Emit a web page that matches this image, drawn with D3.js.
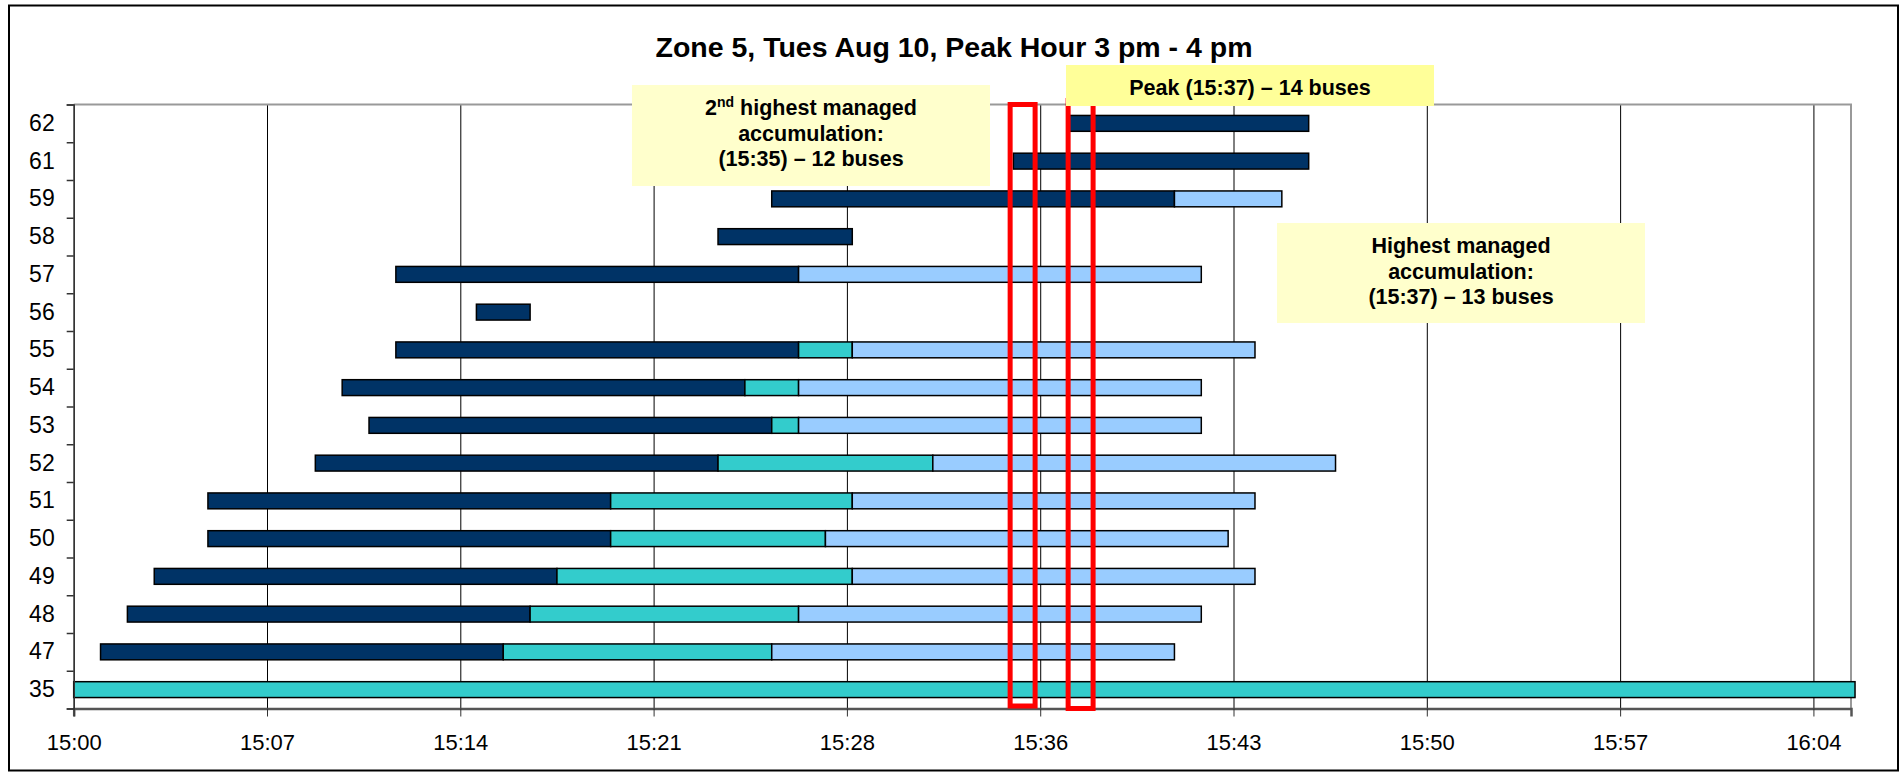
<!DOCTYPE html>
<html>
<head>
<meta charset="utf-8">
<script src="https://cdn.jsdelivr.net/npm/d3@7"></script>
<style>
    body { margin: 0; background: #fff; }
    svg { display: block; font-family: "Liberation Sans", Arial, sans-serif; }
</style>
</head>
<body>
<div id="chart"></div>
<script>
// bays, bottom to top as in the sheet
var categories = ["35", "47", "48", "49", "50", "51", "52", "53", "54", "55", "56", "57", "58", "59", "61", "62"];
// minutes after 15:00
var startMin = [0, 1, 2, 3, 5, 5, 9, 11, 10, 12, 15, 12, 24, 26, 35, 37];
var navyMin  = [0, 15, 15, 15, 15, 15, 15, 15, 15, 15, 2, 15, 5, 15, 11, 9];
var tealMin  = [66.35, 10, 10, 11, 8, 9, 8, 1, 2, 2, 0, 0, 0, 0, 0, 0];
var lightMin = [0, 15, 15, 15, 15, 15, 15, 15, 15, 15, 0, 15, 0, 4, 0, 0];

var tickMinutes = [0, 7.2, 14.4, 21.6, 28.8, 36, 43.2, 50.4, 57.6, 64.8];
var tickLabels = ["15:00", "15:07", "15:14", "15:21", "15:28", "15:36", "15:43", "15:50", "15:57", "16:04"];

// red marker windows (15:35 and 15:37)
var markStart = [34.88, 37.04];
var markEnd = [35.81, 37.97];

var title = "Zone 5, Tues Aug 10, Peak Hour 3 pm - 4 pm";
var peakText = "Peak (15:37) \u2013 14 buses";
var secondText = ["highest managed", "accumulation:", "(15:35) \u2013 12 buses"];
var highestText = ["Highest managed", "accumulation:", "(15:37) \u2013 13 buses"];

var W = 1902, H = 773;
var plot = {left: 73.7, right: 1851, top: 104.5, bottom: 708.5};
var colors = {navy: "#003366", teal: "#33CCCC", light: "#99CCFF"};

var svg = d3.select("#chart").append("svg").attr("width", W).attr("height", H);

// outer chart border
svg.append("rect").attr("x", 9).attr("y", 5.5).attr("width", 1889).attr("height", 765)
    .attr("fill", "#fff").attr("stroke", "#000").attr("stroke-width", 2);

svg.append("text").attr("x", 954).attr("y", 57).attr("text-anchor", "middle")
    .attr("font-size", 28.5).attr("font-weight", "bold").text(title);

var x = d3.scaleLinear().domain([0, 66.2]).range([plot.left, plot.right]);
var y = d3.scaleBand().domain(categories.slice().reverse()).range([plot.top, plot.bottom]);
var yEdge = d3.scaleLinear().domain([0, categories.length]).range([plot.bottom, plot.top]);

// vertical gridlines
var grid = svg.append("g").attr("transform", "translate(0," + plot.bottom + ")")
    .call(d3.axisBottom(x).tickValues(tickMinutes).tickSize(-(plot.bottom - plot.top)).tickFormat(""));
grid.select(".domain").remove();
grid.selectAll("line").attr("stroke", "#000").attr("stroke-width", 1);

// plot frame, top and right in grey
svg.append("path")
    .attr("d", "M" + plot.left + "," + plot.top + "H" + plot.right + "V" + plot.bottom)
    .attr("fill", "none").attr("stroke", "#999").attr("stroke-width", 2);

// stacked bars, first layer is the hidden offset
var table = categories.map(function(c, i){
    return {cat: c, start: startMin[i], navy: navyMin[i], teal: tealMin[i], light: lightMin[i]};
});
var stack = d3.stack().keys(["start", "navy", "teal", "light"]);
var layers = stack(table).slice(1);
var barH = y.bandwidth() * 0.42;

svg.append("g").selectAll("g").data(layers).enter().append("g")
    .attr("fill", function(d){ return colors[d.key]; })
    .selectAll("rect").data(function(d){ return d.filter(function(p){ return p[1] > p[0]; }); })
    .enter().append("rect")
    .attr("x", function(d){ return x(d[0]); })
    .attr("width", function(d){ return x(d[1]) - x(d[0]); })
    .attr("y", function(d){ return y(d.data.cat) + (y.bandwidth() - barH) / 2; })
    .attr("height", barH)
    .attr("stroke", "#000").attr("stroke-width", 1.5);

// axes
var xAxis = svg.append("g").attr("transform", "translate(0," + plot.bottom + ")")
    .call(d3.axisBottom(x).tickValues(tickMinutes).tickSize(8).tickPadding(18)
        .tickFormat(function(d, i){ return tickLabels[i]; }));
xAxis.select(".domain").attr("stroke", "#555").attr("stroke-width", 2.5);
xAxis.selectAll("line").attr("stroke", "#333");
xAxis.selectAll("text").attr("font-size", 22).attr("fill", "#000").attr("font-family", null);

var yTicks = svg.append("g").attr("transform", "translate(" + plot.left + ",0)")
    .call(d3.axisLeft(yEdge).ticks(categories.length).tickSize(7).tickFormat(""));
yTicks.selectAll("path, line").attr("stroke", "#333").attr("stroke-width", 1.5);

var yLabels = svg.append("g").attr("transform", "translate(" + (plot.left - 19) + ",0)")
    .call(d3.axisLeft(y).tickSize(0).tickPadding(0));
yLabels.select(".domain").remove();
yLabels.selectAll("text").attr("font-size", 23).attr("fill", "#000").attr("font-family", null);

// red marker rectangles
svg.append("g").selectAll("rect").data(markStart).enter().append("rect")
    .attr("x", function(d){ return x(d); })
    .attr("width", function(d, i){ return x(markEnd[i]) - x(d); })
    .attr("y", function(d, i){ return i ? plot.top - 4 : plot.top; })
    .attr("height", function(d, i){ return i ? plot.bottom - plot.top + 4 : plot.bottom - plot.top - 2.5; })
    .attr("fill", "none").attr("stroke", "#ff0000").attr("stroke-width", 5);

// callout boxes
function callout(bx, by, bw, bh, fill, lines, firstY, sup){
    var g = svg.append("g");
    g.append("rect").attr("x", bx).attr("y", by).attr("width", bw).attr("height", bh).attr("fill", fill);
    var t = g.append("text").attr("text-anchor", "middle").attr("font-size", 21.5).attr("font-weight", "bold");
    lines.forEach(function(l, i){
        var ts = t.append("tspan").attr("x", bx + bw / 2).attr("y", by + firstY + i * 25.5);
        if (i === 0 && sup){
            ts.append("tspan").text("2");
            ts.append("tspan").attr("font-size", 14).attr("dy", -8).text("nd");
            ts.append("tspan").attr("dy", 8).text(" " + l);
        } else {
            ts.text(l);
        }
    });
}
callout(632, 85, 358, 101, "#FFFFCC", secondText, 30, true);
callout(1277, 223, 368, 100, "#FFFFCC", highestText, 30, false);
callout(1066, 65, 368, 41, "#FFFF99", [peakText], 30, false);
</script>
</body>
</html>
